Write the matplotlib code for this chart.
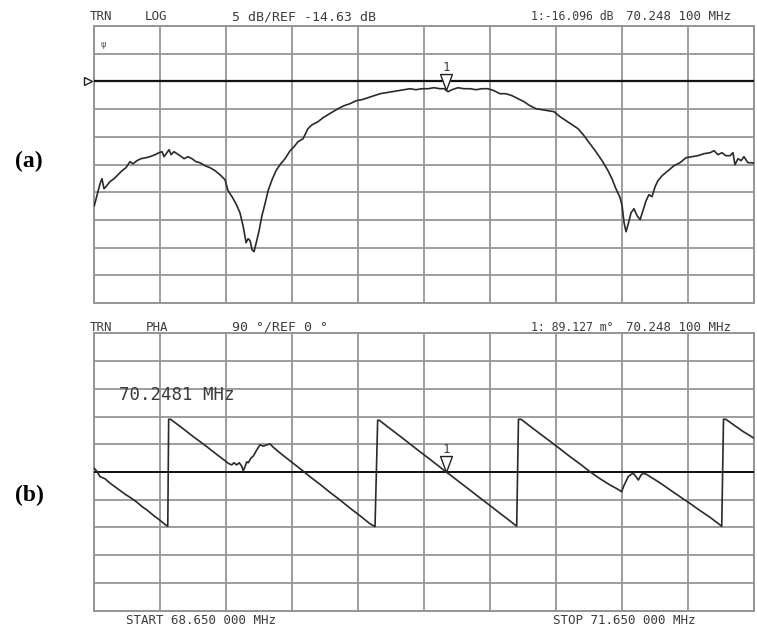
# network analyzer screen: (a) log magnitude, (b) phase

import matplotlib.pyplot as plt
import numpy as np
from matplotlib.path import Path

f_start, f_stop = 68.65, 71.65
ref_db = -14.63
marker_f = 70.2481
marker_db = -16.096
marker_deg = 0.089

mag_f = [68.650, 68.662, 68.676, 68.685, 68.694, 68.703, 68.721, 68.740, 68.758, 68.776,
         68.794, 68.812, 68.826, 68.844, 68.862, 68.885, 68.903, 68.926, 68.944, 68.958,
         68.967, 68.980, 68.990, 68.999, 69.012, 69.026, 69.040, 69.058, 69.076, 69.094,
         69.112, 69.130, 69.153, 69.176, 69.199, 69.221, 69.244, 69.258, 69.276, 69.294,
         69.312, 69.326, 69.340, 69.349, 69.358, 69.367, 69.376, 69.385, 69.399, 69.412,
         69.426, 69.440, 69.458, 69.476, 69.494, 69.517, 69.540, 69.558, 69.576, 69.599,
         69.621, 69.640, 69.667, 69.690, 69.712, 69.735, 69.758, 69.785, 69.812, 69.840,
         69.867, 69.894, 69.921, 69.949, 69.976, 70.003, 70.030, 70.058, 70.085, 70.112,
         70.140, 70.167, 70.194, 70.221, 70.240, 70.258, 70.276, 70.303, 70.330, 70.358,
         70.385, 70.412, 70.440, 70.467, 70.494, 70.521, 70.549, 70.576, 70.603, 70.630,
         70.658, 70.685, 70.712, 70.740, 70.767, 70.794, 70.821, 70.849, 70.876, 70.903,
         70.930, 70.958, 70.985, 71.003, 71.021, 71.040, 71.049, 71.058, 71.067, 71.076,
         71.090, 71.103, 71.117, 71.131, 71.144, 71.158, 71.171, 71.185, 71.199, 71.212,
         71.231, 71.258, 71.285, 71.312, 71.340, 71.367, 71.394, 71.421, 71.449, 71.467,
         71.485, 71.503, 71.521, 71.540, 71.553, 71.562, 71.576, 71.590, 71.603, 71.621,
         71.640, 71.650]
mag_db = [-37.07, -35.26, -33.10, -32.19, -34.00, -33.64, -32.73, -32.19, -31.47, -30.75,
          -30.21, -29.12, -29.49, -28.94, -28.58, -28.40, -28.22, -27.86, -27.50, -27.32,
          -28.22, -27.50, -26.96, -27.86, -27.32, -27.68, -28.04, -28.58, -28.22, -28.58,
          -29.12, -29.31, -29.85, -30.21, -30.75, -31.47, -32.37, -34.36, -35.44, -36.71,
          -38.33, -40.68, -43.75, -43.02, -43.38, -45.01, -45.37, -43.93, -41.58, -38.87,
          -36.71, -34.36, -32.37, -30.75, -29.67, -28.58, -27.14, -26.42, -25.51, -24.97,
          -23.17, -22.45, -21.90, -21.18, -20.64, -20.10, -19.56, -19.02, -18.66, -18.11,
          -17.93, -17.57, -17.21, -16.85, -16.67, -16.49, -16.31, -16.13, -15.95, -16.13,
          -15.95, -15.95, -15.77, -15.95, -15.95, -16.49, -16.13, -15.77, -15.95, -15.95,
          -16.13, -15.95, -15.95, -16.31, -16.85, -16.85, -17.21, -17.75, -18.29, -19.02,
          -19.56, -19.74, -19.92, -20.10, -21.00, -21.72, -22.45, -23.17, -24.43, -25.88,
          -27.32, -28.94, -30.75, -32.19, -34.00, -35.62, -37.07, -40.14, -41.76, -40.50,
          -38.33, -37.61, -38.87, -39.59, -37.97, -36.16, -35.08, -35.44, -33.64, -32.55,
          -31.65, -30.75, -29.85, -29.31, -28.40, -28.22, -28.04, -27.68, -27.50, -27.14,
          -27.86, -27.50, -28.04, -28.04, -27.50, -29.67, -28.58, -28.94, -28.22, -29.31,
          -29.31, -29.49]

pha_f = [68.650, 68.662, 68.676, 68.699, 68.721, 68.744, 68.767, 68.790, 68.812, 68.840,
         68.867, 68.894, 68.921, 68.949, 68.971, 68.984, 68.988, 68.997, 69.021, 69.049,
         69.076, 69.103, 69.130, 69.158, 69.185, 69.212, 69.240, 69.259, 69.275, 69.285,
         69.297, 69.309, 69.320, 69.327, 69.335, 69.343, 69.350, 69.361, 69.373, 69.388,
         69.403, 69.418, 69.434, 69.449, 69.464, 69.494, 69.540, 69.585, 69.630, 69.676,
         69.721, 69.767, 69.812, 69.858, 69.903, 69.926, 69.938, 69.945, 69.994, 70.040,
         70.085, 70.130, 70.176, 70.221, 70.249, 70.267, 70.312, 70.358, 70.403, 70.449,
         70.494, 70.540, 70.570, 70.578, 70.590, 70.630, 70.676, 70.721, 70.767, 70.812,
         70.858, 70.903, 70.949, 70.994, 71.030, 71.047, 71.055, 71.067, 71.077, 71.090,
         71.100, 71.112, 71.123, 71.135, 71.145, 71.161, 71.176, 71.221, 71.267, 71.312,
         71.358, 71.403, 71.449, 71.502, 71.510, 71.521, 71.562, 71.600, 71.630, 71.650]
pha_deg = [12, 2, -15, -22, -36, -48, -60, -72, -82, -96,
           -112, -126, -142, -157, -170, -176, 171, 171, 158, 143,
           128, 113, 99, 84, 69, 54, 39, 28, 23, 30,
           23, 30, 19, 4, 17, 33, 30, 44, 52, 71,
           88, 84, 88, 91, 80, 62, 36, 11, -15, -40,
           -66, -91, -117, -142, -168, -177, 168, 168, 141, 116,
           91, 66, 41, 16, 0, -9, -34, -59, -84, -109,
           -134, -159, -176, 171, 171, 149, 124, 100, 75, 50,
           26, 1, -22, -42, -56, -64, -48, -30, -15, -8,
           -4, -15, -26, -10, -4, -8, -15, -35, -58, -80,
           -102, -125, -147, -176, 171, 171, 150, 131, 118, 109]

W, H = 757, 628
grid_c = "#959595"
trace_c = "#2a2a2a"
txt_c = "#3c3c3c"
mono = "DejaVu Sans Mono"

fig = plt.figure(figsize=(W / 100, H / 100), dpi=100)
ax1 = fig.add_axes([94.3 / W, 1 - 303 / H, 660 / W, 277 / H])
ax2 = fig.add_axes([94.3 / W, 1 - 610.7 / H, 660 / W, 277.4 / H])

# narrow down-pointing triangle, tip at the origin
tri = Path([(0, 0), (-0.37, 1.0), (0.37, 1.0), (0, 0)],
           [Path.MOVETO, Path.LINETO, Path.LINETO, Path.CLOSEPOLY])

for ax, lo, hi in [(ax1, ref_db - 40, ref_db + 10), (ax2, -450, 450)]:
    ax.set_xlim(f_start, f_stop)
    ax.set_ylim(lo, hi)
    ax.set_xticks(np.linspace(f_start, f_stop, 11))
    ax.set_yticks(np.linspace(lo, hi, 11))
    ax.tick_params(length=0, labelbottom=False, labelleft=False)
    ax.grid(True, color=grid_c, lw=1.3)
    ax.set_axisbelow(True)
    for s in ax.spines.values():
        s.set_color(grid_c)
        s.set_linewidth(1.4)

# (a) magnitude
ax1.axhline(ref_db, color="#111111", lw=1.6, zorder=3)
ax1.plot(mag_f, mag_db, color=trace_c, lw=1.2, zorder=4)
ax1.plot([marker_f], [marker_db], marker=tri, ms=23, mfc="white", mec="#222222",
         mew=1.0, ls="none", zorder=5)
ax1.annotate("1", (marker_f, marker_db), xytext=(0, 16), textcoords="offset points",
             ha="center", va="center", fontsize=9, family=mono, color=txt_c)
ax1.plot([-0.009], [ref_db], marker=">", ms=6, mfc="white", mec="#222222", mew=1.0,
         transform=ax1.get_yaxis_transform(), clip_on=False)
ax1.text(0.01, 0.935, "ψ", transform=ax1.transAxes, fontsize=6, color="#555555",
         ha="left", va="center")

# (b) phase
ax2.axhline(0, color="#111111", lw=1.4, zorder=3)
ax2.plot(pha_f, pha_deg, color=trace_c, lw=1.2, zorder=4)
ax2.plot([marker_f], [marker_deg], marker=tri, ms=23, mfc="white", mec="#222222",
         mew=1.0, ls="none", zorder=5)
ax2.annotate("1", (marker_f, marker_deg), xytext=(0, 16), textcoords="offset points",
             ha="center", va="center", fontsize=9, family=mono, color=txt_c)
ax2.text(119 / W, 1 - 395 / H, "70.2481 MHz", transform=fig.transFigure,
         fontsize=12.5, family=mono, color=txt_c, va="center", ha="left")


def screen_text(x, y, s, size=9):
    fig.text(x / W, 1 - y / H, s, fontsize=size, family=mono, color=txt_c,
             ha="left", va="center")


screen_text(90, 17, "TRN")
screen_text(145, 17, "LOG")
screen_text(232, 17, "5 dB/REF -14.63 dB", 9.5)
screen_text(531, 17, "1:-16.096 dB", 8.3)
screen_text(626, 17, "70.248 100 MHz")

screen_text(90, 327, "TRN")
screen_text(146, 327, "PHA")
screen_text(232, 327, "90 °/REF 0 °", 9.5)
screen_text(531, 327, "1: 89.127 m°", 8.3)
screen_text(626, 327, "70.248 100 MHz")

screen_text(126, 620, "START 68.650 000 MHz")
screen_text(553, 620, "STOP 71.650 000 MHz")

fig.text(29 / W, 1 - 161 / H, "(a)", fontsize=17, fontweight="bold",
         family="Liberation Serif", ha="center", va="center")
fig.text(29 / W, 1 - 495 / H, "(b)", fontsize=17, fontweight="bold",
         family="Liberation Serif", ha="center", va="center")

fig.savefig("out.png", dpi=100)
